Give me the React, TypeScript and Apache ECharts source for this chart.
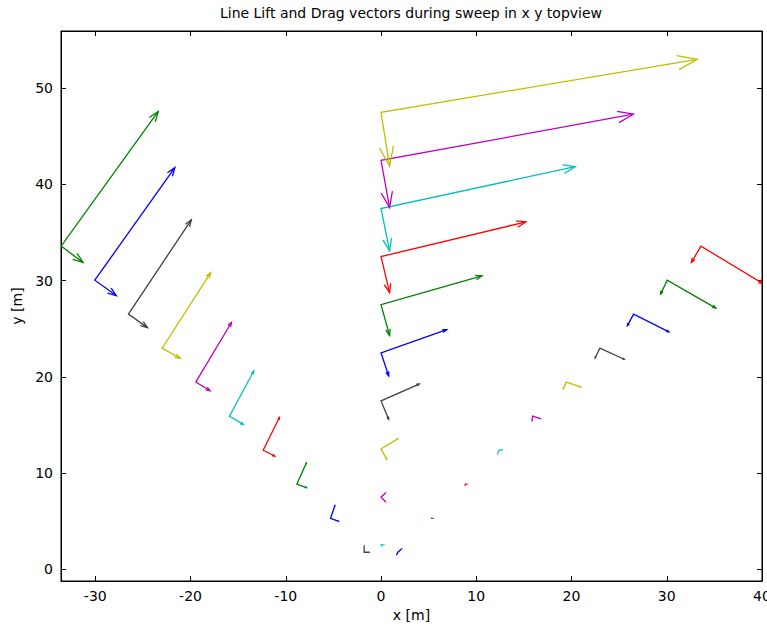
import React, { useEffect, useRef } from "react";
import * as echarts from "echarts";

const chartTitle = "Line Lift and Drag vectors during sweep in x y topview";
const xTicks = [-30, -20, -10, 0, 10, 20, 30, 40];
const yTicks = [0, 10, 20, 30, 40, 50];
const xName = "x [m]";
const yName = "y [m]";

// Right arm (45 deg), from the hub outward
const rightBaseX = [1.77, 5.3, 8.84, 12.37, 15.91, 19.45, 22.98, 26.52, 30.05, 33.59];
const rightBaseY = [1.77, 5.3, 8.84, 12.37, 15.91, 19.45, 22.98, 26.52, 30.05, 33.59];
const rightLiftU = [0.35, 0.12, 0.15, 0.3, 0.8, 1.5, 2.55, 3.7, 5.1, 6.5];
const rightLiftV = [0.3, 0.0, 0.0, 0.05, -0.25, -0.5, -1.15, -1.85, -2.9, -3.9];
const rightDragU = [-0.1, 0.0, 0.0, -0.1, -0.05, -0.3, -0.5, -0.65, -0.7, -1.0];
const rightDragV = [-0.2, -0.05, -0.1, -0.3, -0.45, -0.65, -1.0, -1.2, -1.45, -1.7];

// Centre arm (90 deg)
const centerBaseX = [0, 0, 0, 0, 0, 0, 0, 0, 0, 0];
const centerBaseY = [2.5, 7.5, 12.5, 17.5, 22.5, 27.5, 32.5, 37.5, 42.5, 47.5];
const centerLiftU = [0.25, 0.45, 1.75, 4.0, 6.9, 10.6, 15.2, 20.4, 26.5, 33.2];
const centerLiftV = [0.05, 0.4, 1.05, 1.75, 2.4, 3.0, 3.6, 4.35, 4.8, 5.5];
const centerDragU = [0.05, 0.45, 0.6, 0.8, 0.8, 0.9, 0.9, 0.9, 0.9, 0.9];
const centerDragV = [-0.05, -0.45, -1.05, -1.9, -2.4, -3.2, -3.75, -4.4, -4.9, -5.6];

// Left arm (135 deg)
const leftBaseX = [-1.77, -5.3, -8.84, -12.37, -15.91, -19.45, -22.98, -26.52, -30.05, -33.59];
const leftBaseY = [1.77, 5.3, 8.84, 12.37, 15.91, 19.45, 22.98, 26.52, 30.05, 33.59];
const leftLiftU = [0.0, 0.45, 1.0, 1.7, 2.55, 3.75, 5.1, 6.6, 8.4, 10.2];
const leftLiftV = [0.6, 1.3, 2.2, 3.4, 4.7, 6.2, 7.85, 9.8, 11.7, 14.0];
const leftDragU = [0.5, 0.8, 1.0, 1.2, 1.45, 1.5, 1.9, 2.0, 2.25, 2.3];
const leftDragV = [0.0, -0.3, -0.35, -0.6, -0.85, -0.9, -1.05, -1.4, -1.6, -1.7];

const colorOrder = ["#0000FF", "#008000", "#FF0000", "#00BFBF", "#BF00BF", "#BFBF00", "#404040"];

function buildData() {
  const groups = [
    [rightBaseX, rightBaseY, rightLiftU, rightLiftV, rightDragU, rightDragV],
    [centerBaseX, centerBaseY, centerLiftU, centerLiftV, centerDragU, centerDragV],
    [leftBaseX, leftBaseY, leftLiftU, leftLiftV, leftDragU, leftDragV],
  ];
  const out: number[][] = [];
  let k = 0;
  for (const g of groups) {
    for (let i = 0; i < g[0].length; i++) {
      out.push([g[0][i], g[1][i], g[2][i], g[3][i], g[4][i], g[5][i], k % 7]);
      k++;
    }
  }
  return out;
}

const FONT = "DejaVu Sans";

export default function App() {
  const ref = useRef<HTMLDivElement>(null);
  useEffect(() => {
    if (!ref.current) return;
    const chart = echarts.init(ref.current, undefined, { renderer: "svg" });
    const headFrac = 0.065;
    const halfAngle = (20 * Math.PI) / 180;
    const head = (tip: number[], base: number[], h: number) => {
      const dx = tip[0] - base[0];
      const dy = tip[1] - base[1];
      const L = Math.hypot(dx, dy) || 1;
      const ux = dx / L, uy = dy / L;
      const c = Math.cos(halfAngle), s = Math.sin(halfAngle);
      const a = [tip[0] - h * (c * ux - s * uy), tip[1] - h * (s * ux + c * uy)];
      const b = [tip[0] - h * (c * ux + s * uy), tip[1] - h * (-s * ux + c * uy)];
      return [a, tip, b];
    };
    const axisCommon = {
      type: "value" as const,
      splitLine: { show: false },
      axisLine: { show: true, onZero: false, lineStyle: { color: "#000", width: 1 } },
    };
    chart.setOption({
      animation: false,
      backgroundColor: "#fff",
      grid: {
        left: 61,
        top: 31,
        right: 5,
        bottom: 54,
        show: true,
        borderColor: "#000",
        borderWidth: 1,
        containLabel: false,
        outerBoundsMode: "none",
      },
      graphic: [
        {
          type: "text",
          x: 411,
          y: 13,
          style: {
            text: chartTitle,
            textAlign: "center",
            textVerticalAlign: "middle",
            font: `14px '${FONT}'`,
            fill: "#000",
          },
        },
      ],
      xAxis: [
        {
          ...axisCommon,
          position: "bottom",
          min: -33.6,
          max: 40,
          axisTick: { show: true, inside: true, length: 5, customValues: xTicks, lineStyle: { color: "#000" } },
          axisLabel: { customValues: xTicks, color: "#000", fontFamily: FONT, fontSize: 14, margin: 8 },
          name: xName,
          nameLocation: "middle",
          nameGap: 27,
          nameTextStyle: { color: "#000", fontFamily: FONT, fontSize: 14 },
        },
        {
          ...axisCommon,
          position: "top",
          min: -33.6,
          max: 40,
          axisTick: { show: true, inside: true, length: 5, customValues: xTicks, lineStyle: { color: "#000" } },
          axisLabel: { show: false },
        },
      ],
      yAxis: [
        {
          ...axisCommon,
          position: "left",
          min: -1.22,
          max: 55.95,
          axisTick: { show: true, inside: true, length: 5, customValues: yTicks, lineStyle: { color: "#000" } },
          axisLabel: { customValues: yTicks, color: "#000", fontFamily: FONT, fontSize: 14, margin: 8 },
          name: yName,
          nameLocation: "middle",
          nameGap: 35,
          nameRotate: 90,
          nameTextStyle: { color: "#000", fontFamily: FONT, fontSize: 14 },
        },
        {
          ...axisCommon,
          position: "right",
          min: -1.22,
          max: 55.95,
          axisTick: { show: true, inside: true, length: 5, customValues: yTicks, lineStyle: { color: "#000" } },
          axisLabel: { show: false },
        },
      ],
      series: [
        {
          type: "custom",
          coordinateSystem: "cartesian2d",
          xAxisIndex: 0,
          yAxisIndex: 0,
          clip: true,
          encode: { x: 0, y: 1 },
          data: buildData(),
          renderItem: (params: any, api: any) => {
            const x0 = api.value(0), y0 = api.value(1);
            const lu = api.value(2), lv = api.value(3);
            const du = api.value(4), dv = api.value(5);
            const color = colorOrder[api.value(6)];
            const p0 = api.coord([x0, y0]);
            const p1 = api.coord([x0 + lu, y0 + lv]);
            const p2 = api.coord([x0 + du, y0 + dv]);
            const l1 = Math.hypot(p1[0] - p0[0], p1[1] - p0[1]);
            const l2 = Math.hypot(p2[0] - p0[0], p2[1] - p0[1]);
            const h = headFrac * Math.max(l1, l2);
            const st = { stroke: color, lineWidth: 1.3, fill: "none" };
            const children: any[] = [
              { type: "polyline", shape: { points: [p2, p0, p1] }, style: st },
            ];
            if (l1 > 0.5) children.push({ type: "polyline", shape: { points: head(p1, p0, Math.min(h, l1)) }, style: st });
            if (l2 > 0.5) children.push({ type: "polyline", shape: { points: head(p2, p0, Math.min(h, l2)) }, style: st });
            return { type: "group", children };
          },
        },
      ],
    });
    return () => chart.dispose();
  }, []);
  return (
    <div
      ref={ref}
      style={{ position: "fixed", left: 0, top: 0, width: 767, height: 635, background: "#fff" }}
    />
  );
}
